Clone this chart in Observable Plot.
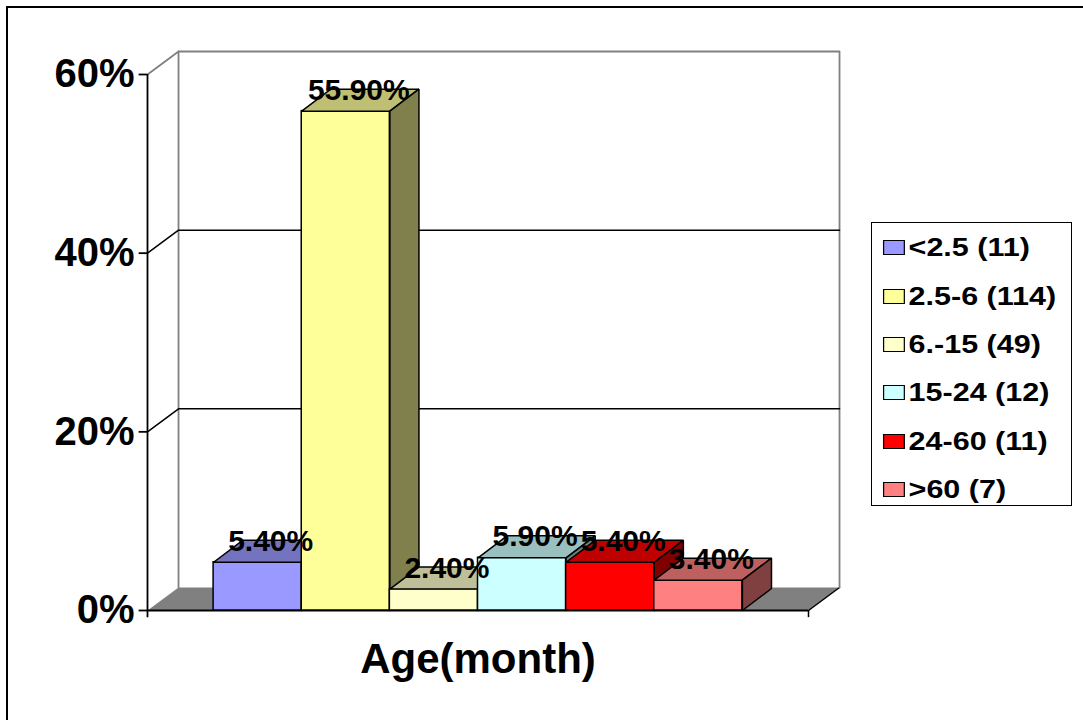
<!DOCTYPE html>
<html><head><meta charset="utf-8">
<script src="https://cdn.jsdelivr.net/npm/d3@7"></script>
<script src="https://cdn.jsdelivr.net/npm/@observablehq/plot@0.6"></script>
<style>
body{margin:0;background:#fff;}
#wrap{position:relative;width:1083px;height:720px;overflow:hidden;background:#fff;font-family:"Liberation Sans",Arial,sans-serif;}
#frame{position:absolute;left:6px;top:6px;width:1200px;height:800px;border:2.5px solid #000;box-sizing:border-box;}
#chart{position:absolute;left:0;top:0;}
#legend{position:absolute;left:871px;top:222px;width:201px;height:284px;border:1.5px solid #000;box-sizing:border-box;background:#fff;overflow:hidden;}
#legend .inner{transform:scaleX(1.22);transform-origin:0 0;padding-top:0.5px;padding-left:8.5px;}
.row{display:flex;align-items:center;height:48.4px;}
.sw{width:16px;height:13px;border:1px solid #000;flex:none;}
.lab{margin-left:3.5px;font-size:25px;font-weight:bold;color:#000;white-space:nowrap;font-family:"Liberation Sans",Arial,sans-serif;}
</style></head>
<body>
<div id="wrap"><div id="frame"></div><div id="chart"></div><div id="legend"><div class="inner"></div></div></div>
<script>
// ---- data ----
const categories = ["<2.5", "2.5-6", "6.-15", "15-24", "24-60", ">60"];
const counts = [11, 114, 49, 12, 11, 7];
const percents = [5.4, 55.9, 2.4, 5.9, 5.4, 3.4];
const frontColors = ["#9999FF", "#FFFF99", "#FFFFCC", "#CCFFFF", "#FF0000", "#FF8080"];
const topColors = ["#7373BF", "#BFBF73", "#BFBF99", "#99BFBF", "#BF0000", "#BF6060"];
const sideColors = ["#4D4D80", "#80804D", "#808066", "#668080", "#800000", "#804040"];
const yTicks = [0, 20, 40, 60];
const xTitle = "Age(month)";

// ---- geometry (data units) ----
const xMin = -0.75, xMax = categories.length + 0.75, yMax = 60;
const wx = 0.352, wy = 2.575;   // wall depth
const bx = 0.33, by = 2.46;     // bar depth

const bars = categories.map((c, i) => ({c, i, v: percents[i]}));
const pts = a => a.map(([x, y]) => ({x, y}));

const marks = [];
// floor
marks.push(Plot.line(pts([[xMin, 0], [xMax, 0], [xMax + wx, wy], [xMin + wx, wy], [xMin, 0]]), {x: "x", y: "y", fill: "#808080", stroke: "none"}));
marks.push(Plot.line(pts([[xMax, 0], [xMax + wx, wy]]), {x: "x", y: "y", stroke: "#000", strokeWidth: 1.5}));
// back wall border
marks.push(Plot.line(pts([[xMin + wx, wy], [xMin + wx, yMax + wy], [xMax + wx, yMax + wy], [xMax + wx, wy]]), {x: "x", y: "y", stroke: "#808080", strokeWidth: 1.8}));
marks.push(Plot.line(pts([[xMin, yMax], [xMin + wx, yMax + wy]]), {x: "x", y: "y", stroke: "#808080", strokeWidth: 1.8}));
// gridlines
yTicks.filter(t => t > 0 && t < yMax).forEach(t => {
  marks.push(Plot.line(pts([[xMin, t], [xMin + wx, t + wy], [xMax + wx, t + wy]]), {x: "x", y: "y", stroke: "#000", strokeWidth: 1.5}));
});
// front axes
marks.push(Plot.ruleX([xMin], {y1: -0.8, y2: yMax, stroke: "#000", strokeWidth: 1.8}));
marks.push(Plot.ruleX([xMax], {y1: -0.8, y2: 0, stroke: "#000", strokeWidth: 1.5}));
marks.push(Plot.ruleY([0], {x1: xMin, x2: xMax, stroke: "#000", strokeWidth: 1.8}));
marks.push(Plot.ruleY(yTicks, {x1: xMin - 0.095, x2: xMin, stroke: "#000", strokeWidth: 1.8}));
// bars (painter's order)
bars.forEach(b => {
  const {i, v} = b;
  marks.push(Plot.rect([b], {x1: "i", x2: d => d.i + 1, y1: 0, y2: "v", fill: frontColors[i], stroke: "#000", strokeWidth: 1.5}));
  marks.push(Plot.line(pts([[i, v], [i + 1, v], [i + 1 + bx, v + by], [i + bx, v + by], [i, v]]), {x: "x", y: "y", fill: topColors[i], stroke: "#000", strokeWidth: 1.5, strokeLinejoin: "miter"}));
  marks.push(Plot.line(pts([[i + 1, 0], [i + 1, v], [i + 1 + bx, v + by], [i + 1 + bx, by], [i + 1, 0]]), {x: "x", y: "y", fill: sideColors[i], stroke: "#000", strokeWidth: 1.5, strokeLinejoin: "miter"}));
});
// value labels
marks.push(Plot.text(bars, {x: d => d.i + 0.5, y: "v", text: d => d.v.toFixed(2) + "%", dx: 13, dy: -21, fontSize: 30, fontWeight: "bold", fill: "#000"}));
// tick labels
marks.push(Plot.text(yTicks, {x: () => xMin, y: d => d, text: d => d + "%", textAnchor: "end", dx: -13, fontSize: 40, fontWeight: "bold", fill: "#000"}));
// axis title
marks.push(Plot.text([xTitle], {x: () => (xMin + xMax) / 2, y: () => 0, text: d => d, dy: 49, fontSize: 42, fontWeight: "bold", fill: "#000"}));

const chart = Plot.plot({
  width: 1083, height: 720,
  marginLeft: 147, marginRight: 275, marginTop: 74, marginBottom: 110,
  x: {type: "linear", domain: [xMin, xMax], axis: null},
  y: {type: "linear", domain: [0, yMax], axis: null},
  style: {background: "transparent", fontFamily: "'Liberation Sans', Arial, sans-serif", overflow: "visible"},
  marks
});
document.getElementById("chart").appendChild(chart);

// legend
const inner = document.querySelector("#legend .inner");
categories.forEach((c, i) => {
  const row = document.createElement("div");
  row.className = "row";
  const sw = document.createElement("div");
  sw.className = "sw";
  sw.style.background = frontColors[i];
  const lab = document.createElement("span");
  lab.className = "lab";
  lab.textContent = `${c} (${counts[i]})`;
  row.appendChild(sw); row.appendChild(lab);
  inner.appendChild(row);
});
</script>
</body></html>
